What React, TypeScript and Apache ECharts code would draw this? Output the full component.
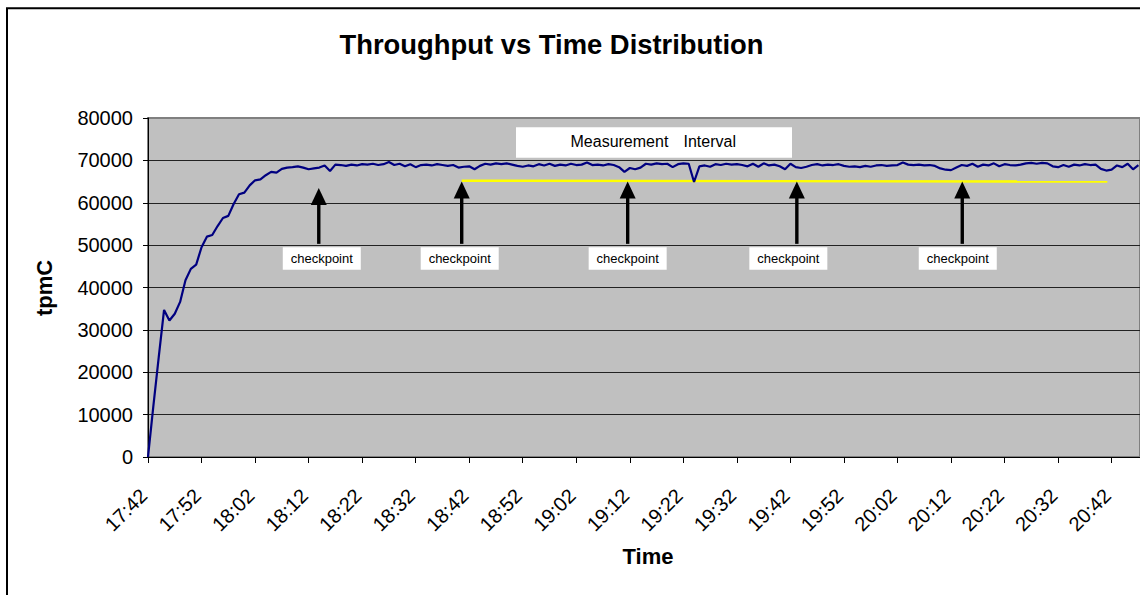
import React, { useEffect, useRef } from "react";
import * as echarts from "echarts";

const FONT = '"Liberation Sans", Arial, Helvetica, sans-serif';

// Axis labels shown every 10 minutes (minute 0 = 17:42)
const TIME_LABELS = [
  "17:42", "17:52", "18:02", "18:12", "18:22", "18:32", "18:42", "18:52", "19:02", "19:12",
  "19:22", "19:32", "19:42", "19:52", "20:02", "20:12", "20:22", "20:32", "20:42",
];

// tpmC sampled once a minute from 17:42
const THROUGHPUT = [
  0, 12000, 23500, 34700, 32200, 33800, 36600, 41700, 44400, 45400,
  49500, 52000, 52400, 54500, 56400, 56900, 59700, 62000, 62400, 64100,
  65300, 65500, 66500, 67300, 67100, 68000, 68300, 68400, 68600, 68300,
  67900, 68100, 68300, 68800, 67500, 69000, 68900, 68700, 69000, 68800,
  69100, 69000, 69200, 68900, 69100, 69600, 68900, 69200, 68600, 69100,
  68400, 68900, 69000, 68800, 69100, 68900, 68700, 68900, 68300, 68500,
  68600, 67900, 68700, 69200, 69000, 69300, 69100, 69300, 69000, 68700,
  68500, 68800, 68600, 69100, 68800, 69200, 68700, 69000, 68800, 69200,
  68900, 69000, 69500, 68900, 69000, 68800, 69100, 68900, 68400, 67300,
  68200, 67900, 68300, 69200, 69000, 69300, 69100, 69200, 68400, 69100,
  69300, 69200, 64900, 68600, 68800, 68500, 69100, 68900, 69200, 69000,
  69100, 68900, 68600, 69200, 68500, 69300, 68800, 69000, 68600, 67900,
  69200, 68400, 68200, 68500, 68900, 69100, 68800, 69000, 68900, 69100,
  68700, 68500, 68600, 68400, 68700, 68500, 68800, 68900, 68700, 68800,
  68900, 69500, 69000, 68900, 69000, 68800, 68900, 68700, 68100, 67800,
  67700, 68300, 68900, 68700, 69200, 68500, 69000, 68800, 69300, 68600,
  69100, 68900, 68800, 69000, 69300, 69400, 69200, 69400, 69300, 68600,
  68400, 68900, 68500, 69000, 68800, 69100, 68900, 69000, 68000, 67600,
  67800, 68800, 68400, 69200, 67900, 68900,
];

// Measurement interval: start / end minute and the level of the marker line
const INTERVAL_MINUTES = [58.6, 179.2];
const INTERVAL_LEVEL = [65200, 65000];

// Checkpoints: minute of each checkpoint and the tpmC value its arrow points to
const CHECKPOINT_MINUTES = [31.9, 58.6, 89.6, 121.2, 152.1];
const CHECKPOINT_TIPS = [63500, 65000, 65000, 65000, 65000];
const CHECKPOINT_BASE = 50300;

// label box horizontal shift relative to its arrow (px)
const LABEL_SHIFT = [3, -2, 0, -8.5, -4.5];

export default function App() {
  const ref = useRef<HTMLDivElement>(null);

  useEffect(() => {
    const chart = echarts.init(ref.current!, null, { renderer: "svg" });

    const splitColors = ["#222", "#222", "#222", "#222", "#222", "#222", "#222", "#222", "#808080"];

    chart.setOption({
      animation: false,
      backgroundColor: "#ffffff",
      textStyle: { fontFamily: FONT },
      grid: {
        left: 148,
        top: 118,
        right: 0,
        bottom: 138,
        show: true,
        backgroundColor: "#C0C0C0",
        borderColor: "#808080",
        borderWidth: 2,
      },
      xAxis: {
        type: "value",
        min: 0,
        max: 185.3,
        interval: 10,
        axisLine: { show: true, onZero: false, lineStyle: { color: "#000", width: 1 } },
        axisTick: { show: true, length: 6, lineStyle: { color: "#000" } },
        splitLine: { show: false },
        axisLabel: {
          rotate: 45,
          margin: 31,
          fontSize: 20,
          color: "#000",
          fontFamily: FONT,
          padding: [0, 6, 0, 0],
          showMaxLabel: false,
          formatter: (v: number) => (v % 10 === 0 ? TIME_LABELS[v / 10] ?? "" : ""),
        },
      },
      yAxis: {
        type: "value",
        min: 0,
        max: 80000,
        interval: 10000,
        axisLine: { show: true, lineStyle: { color: "#000", width: 1 } },
        axisTick: { show: true, length: 5, lineStyle: { color: "#000" } },
        splitLine: { show: true, lineStyle: { color: splitColors, width: 1 } },
        axisLabel: {
          fontSize: 20,
          color: "#000",
          margin: 15,
          fontFamily: FONT,
          formatter: (v: number) => String(v),
        },
      },
      series: [
        {
          type: "line",
          data: INTERVAL_MINUTES.map((m, i) => [m, INTERVAL_LEVEL[i]]),
          symbol: "none",
          lineStyle: { color: "#FFFF00", width: 2.4 },
          z: 2,
        },
        {
          type: "line",
          data: THROUGHPUT.map((v, i) => [i, v]),
          symbol: "none",
          showSymbol: false,
          lineStyle: { color: "#000080", width: 2.2 },
          z: 3,
        },
      ],
    });

    const px = (m: number, v: number) =>
      chart.convertToPixel({ gridIndex: 0 }, [m, v]) as number[];

    const graphics: any[] = [
      // chart frame
      {
        type: "rect",
        shape: { x: 7, y: 8.3, width: 1300, height: 800 },
        style: { fill: "none", stroke: "#000", lineWidth: 2 },
        z: 100,
      },
      {
        type: "text",
        x: 551.5,
        y: 44,
        style: {
          text: "Throughput vs Time Distribution",
          font: `bold 27.4px ${FONT}`,
          fill: "#000",
          align: "center",
          verticalAlign: "middle",
        },
        z: 100,
      },
      {
        type: "text",
        x: 648,
        y: 556.5,
        style: {
          text: "Time",
          font: `bold 22px ${FONT}`,
          fill: "#000",
          align: "center",
          verticalAlign: "middle",
        },
        z: 100,
      },
      {
        type: "text",
        x: 44.5,
        y: 288,
        rotation: Math.PI / 2,
        style: {
          text: "tpmC",
          font: `bold 22px ${FONT}`,
          fill: "#000",
          align: "center",
          verticalAlign: "middle",
        },
        z: 100,
      },
      // measurement interval caption
      {
        type: "rect",
        shape: { x: 516, y: 127.3, width: 276, height: 30.5 },
        style: { fill: "#fff" },
        z: 100,
      },
      {
        type: "text",
        x: 570.5,
        y: 141,
        style: {
          text: "Measurement",
          font: `16px ${FONT}`,
          fill: "#000",
          align: "left",
          verticalAlign: "middle",
        },
        z: 101,
      },
      {
        type: "text",
        x: 683.5,
        y: 141,
        style: {
          text: "Interval",
          font: `16px ${FONT}`,
          fill: "#000",
          align: "left",
          verticalAlign: "middle",
        },
        z: 101,
      },
    ];

    CHECKPOINT_MINUTES.forEach((m, i) => {
      const [x, tipY] = px(m, CHECKPOINT_TIPS[i]);
      const [, baseY] = px(m, CHECKPOINT_BASE);
      const headH = 17;
      const headW = 16;
      graphics.push({
        type: "line",
        shape: { x1: x, y1: baseY, x2: x, y2: tipY + headH - 1 },
        style: { stroke: "#000", lineWidth: 3.4 },
        z: 100,
      });
      graphics.push({
        type: "polygon",
        shape: {
          points: [
            [x, tipY],
            [x - headW / 2, tipY + headH],
            [x + headW / 2, tipY + headH],
          ],
        },
        style: { fill: "#000" },
        z: 100,
      });
      const cx = x + LABEL_SHIFT[i];
      const boxTop = baseY + 3.5;
      graphics.push({
        type: "rect",
        shape: { x: cx - 39, y: boxTop, width: 78, height: 22.5 },
        style: { fill: "#fff" },
        z: 100,
      });
      graphics.push({
        type: "text",
        x: cx,
        y: boxTop + 11.5,
        style: {
          text: "checkpoint",
          font: `13px ${FONT}`,
          fill: "#000",
          align: "center",
          verticalAlign: "middle",
        },
        z: 101,
      });
    });

    chart.setOption({ graphic: graphics });

    return () => chart.dispose();
  }, []);

  return (
    <div
      ref={ref}
      style={{ position: "fixed", left: 0, top: 0, width: 1140, height: 595, background: "#fff" }}
    />
  );
}
